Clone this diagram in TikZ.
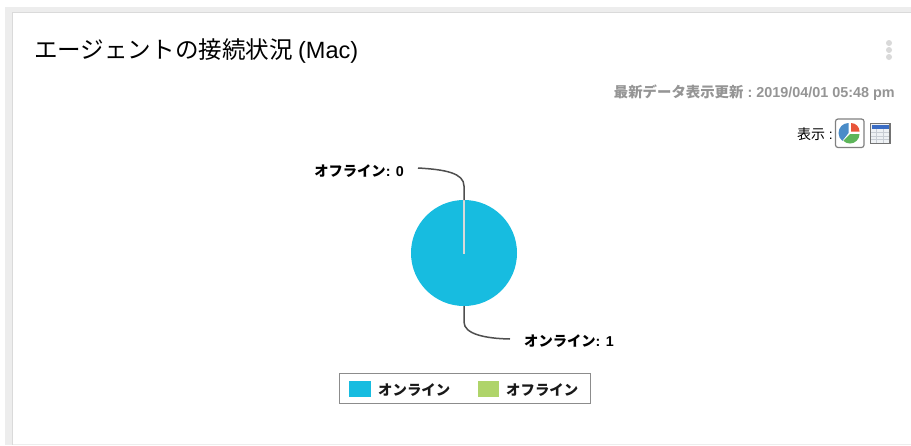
\documentclass[tikz,border=0pt]{standalone}
\usepackage{fontspec}
\setmainfont{Liberation Sans}
\newfontfamily\cjk{Noto Sans CJK JP}
\newfontfamily\lat{Liberation Sans}
\definecolor{pieblue}{HTML}{17BCE0}
\definecolor{offgreen}{HTML}{AFD46A}
\definecolor{band}{HTML}{EDEDED}
\definecolor{cardline}{HTML}{DADADA}
\definecolor{dotc}{HTML}{D9D9D9}
\definecolor{datagray}{HTML}{959595}
\definecolor{leaderc}{HTML}{4F4F4F}
\definecolor{iconblue}{HTML}{4A8CC8}
\definecolor{iconred}{HTML}{E8553A}
\definecolor{icongreen}{HTML}{5DB55A}
\definecolor{tablehead}{HTML}{3A6CC4}
\definecolor{tablegrid}{HTML}{C8CDD4}
\definecolor{tablefill}{HTML}{EEF1F4}
\tikzset{
  x=1pt,y=-1pt,
  leader/.style={draw=leaderc,line width=1.5pt},
  lab/.style={inner sep=0pt,font=\fontsize{14.3}{16}\selectfont\bfseries\cjk,text=black},
  legtext/.style={inner sep=0pt,anchor=west,font=\fontsize{14.4}{16}\selectfont\bfseries\cjk,text=black!90},
  swatch/.style={minimum width=21.5pt,minimum height=16pt,inner sep=0pt,draw=none},
  menudot/.style={fill=dotc},
}
\begin{document}
\begin{tikzpicture}
\useasboundingbox (0,0) rectangle (911,445);
\fill[white] (0,0) rectangle (911,445);
\fill[band] (5,7) rectangle (911,445);
\fill[white] (13,13) rectangle (911,444);
\fill[cardline] (12,12) rectangle (911,13.2);
\fill[cardline] (12,12) rectangle (13.2,445);
\node[inner sep=0pt,anchor=west] (title) at (34,51.5) {\fontsize{23.55}{26}\selectfont\cjk エージェントの接続状況 \lat(Mac)};
\foreach \yy in {43,50,57}{\fill[menudot] (889,\yy) circle (3);}
\node[inner sep=0pt,anchor=east,text=datagray] (date) at (895,93) {\fontsize{14.4}{16}\selectfont\bfseries{\cjk 最新データ表示更新}{\lat\bfseries\ :\ 2019/04/01 05:48 pm}};
\node[inner sep=0pt,anchor=east] (show) at (833,134) {\fontsize{14}{15}\selectfont{\cjk 表示} :};
% pie icon
\draw[line width=1.2pt,draw=black!50,fill=white,rounded corners=2.5pt] (835.5,119) rectangle (864,147.5);
\fill[iconblue] (848.5,133) -- (848.5,123) arc[start angle=-90,end angle=-232,radius=10] -- cycle;
\fill[iconred] (851,131.5) -- (851,123) arc[start angle=-90,end angle=0,radius=8.5] -- cycle;
\fill[icongreen] (850,134) -- (859.5,134) arc[start angle=0,end angle=135,radius=9.5] -- cycle;
% table icon
\draw[line width=1.2pt,draw=black!55,fill=tablefill] (870.5,123.5) rectangle (890,143.5);
\fill[tablehead] (871.5,125) rectangle (889,129);
\foreach \xx in {876.5,883}{\draw[tablegrid,line width=.7pt] (\xx,129) -- (\xx,142.9);}
\foreach \yy in {132.5,136,139.5}{\draw[tablegrid,line width=.7pt] (871.1,\yy) -- (889.4,\yy);}
% pie
\fill[pieblue] (464,253) circle (53);
\coordinate (pietop) at (464,200);
\coordinate (piebot) at (464,306);
\coordinate (piec) at (464,254);
\draw[white!85!black,line width=1.1pt] (pietop) -- (piec);
\node[lab,anchor=east] (off) at (404,171) {オフライン\lat\bfseries: 0};
\node[lab,anchor=west] (on) at (524,341.5) {オンライン\lat\bfseries: 1};
\draw[leader] (418,168) .. controls (445,169.5) and (464,173) .. (464,186) -- (pietop);
\draw[leader] (piebot) -- (464,322) .. controls (464,334) and (485,338.5) .. (510,339);
% legend
\draw[black!45,line width=1pt,fill=white] (339,373) rectangle (590,403);
\node[swatch,fill=pieblue] (s1) at (360,389) {};
\node[legtext] (l1) at (378,390.5) {オンライン};
\node[swatch,fill=offgreen] (s2) at (488.5,389) {};
\node[legtext] (l2) at (506,390.5) {オフライン};
\end{tikzpicture}
\end{document}
